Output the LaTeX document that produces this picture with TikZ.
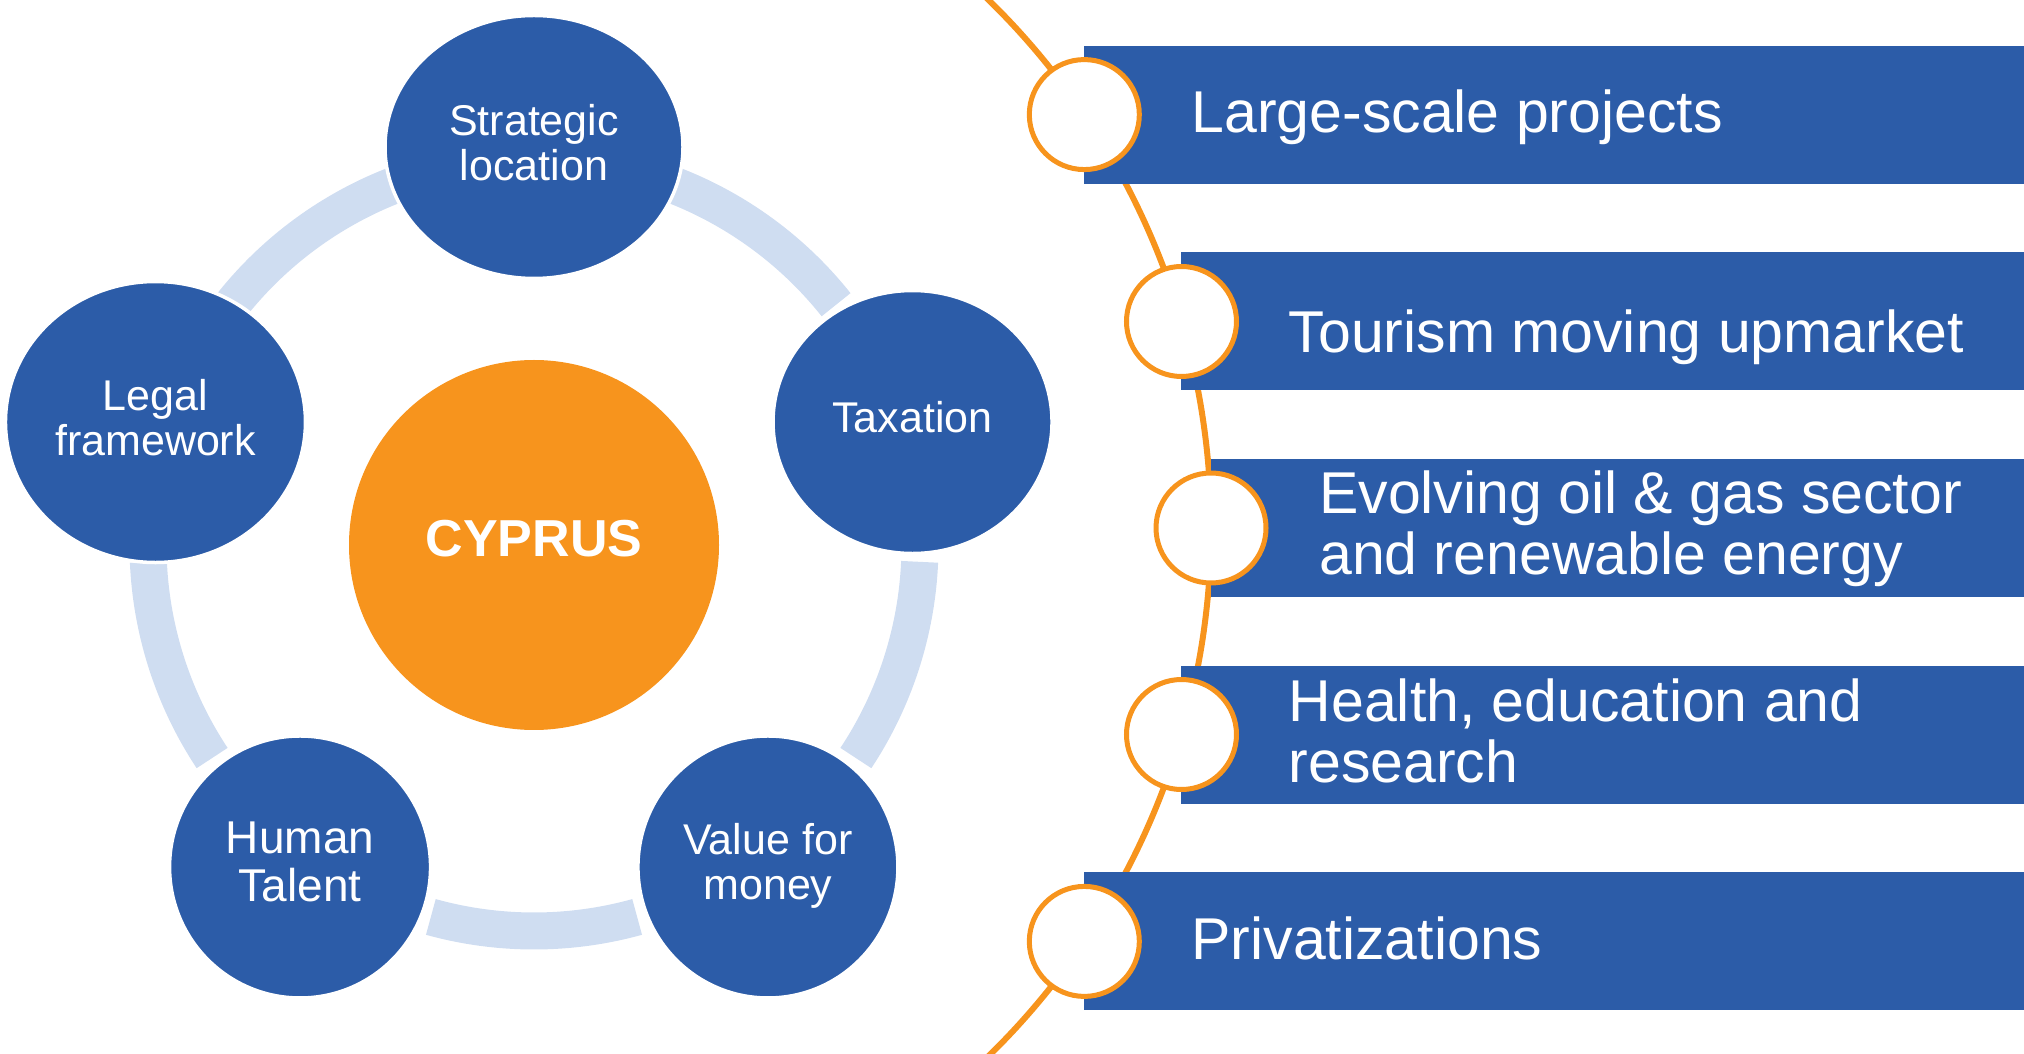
\documentclass[tikz,border=0pt]{standalone}
\usepackage{fontspec}
\setmainfont{Liberation Sans}
\usetikzlibrary{shapes.geometric, calc}
\definecolor{cyblue}{HTML}{2C5CA8}
\definecolor{cyring}{HTML}{CFDDF1}
\definecolor{cyorange}{HTML}{F7941D}
\tikzset{x=1pt, y=1pt, % one unit is one point
pillar/.style={ellipse, fill=cyblue, draw=white, line width=3.5pt, inner sep=0pt, text=white, align=center, text depth=10pt, font=\fontsize{43}{45}\selectfont}, % the blue ellipses round the hub
ringarc/.style={draw=cyring, line width=37pt, line cap=butt}, % pale ring pieces between the ellipses
ringdot/.style={circle, fill=white, draw=cyorange, line width=5pt, minimum size=110pt, inner sep=0pt}, % white dots on the orange arc
bar/.style={fill=cyblue},
bartext/.style={anchor=west, inner sep=0pt, text=white, align=left, text depth=0pt, font=\fontsize{59}{61}\selectfont},
}

\begin{document}
\begin{tikzpicture}
\useasboundingbox (0,0) rectangle (2024,1053);
\clip (0,0) rectangle (2024,1053);

% left: the five pillars round Cyprus
\coordinate (hub) at (534,508);
\foreach \a in {90,18,-54,-126,162}
  \draw[ringarc] ($(hub)+(\a-20.5:386pt)$) arc[start angle=\a-20.5, end angle=\a-51.5, radius=386pt];

\node[pillar, minimum width=298pt, minimum height=263pt] (strat) at ($(hub)+(90:398pt)$) {Strategic\\location};
\node[pillar, minimum width=279pt, minimum height=263pt] (tax) at ($(hub)+(18:398pt)$) {Taxation};
\node[pillar, minimum width=260pt, minimum height=262pt, text depth=12pt] (value) at ($(hub)+(-54:398pt)$) {Value for\\money};
\node[pillar, minimum width=261pt, minimum height=262pt, font=\fontsize{46}{48}\selectfont] (human) at ($(hub)+(-126:398pt)$) {Human\\Talent};
\node[pillar, minimum width=300pt, minimum height=281pt] (legal) at ($(hub)+(162:398pt)$) {Legal\\framework};

\node[circle, fill=cyorange, minimum size=370pt, inner sep=0pt, text=white, text depth=13pt, font=\bfseries\fontsize{52}{54}\selectfont] (cyprus) at (hub) {CYPRUS};

% right: the sectors along the orange arc
\coordinate (arcc) at (473,525);
\coordinate (edge) at (2024,0);
\draw[cyorange, line width=6pt] ($(arcc)+(47:738pt)$) arc[start angle=47, end angle=-47, radius=738pt];

\coordinate (p1) at ($(arcc)+(34.07:738pt)$);
\coordinate (p2) at ($(arcc)+(16.25:738pt)$);
\coordinate (p3) at ($(arcc)+(0:738pt)$);
\coordinate (p4) at ($(arcc)+(-16.25:738pt)$);
\coordinate (p5) at ($(arcc)+(-34.07:738pt)$);

\fill[bar] ($(p1)+(0,-69)$) rectangle ($(p1 -| edge)+(0,69)$);
\fill[bar] ($(p2)+(0,-69)$) rectangle ($(p2 -| edge)+(0,69)$);
\fill[bar] ($(p3)+(0,-69)$) rectangle ($(p3 -| edge)+(0,69)$);
\fill[bar] ($(p4)+(0,-69)$) rectangle ($(p4 -| edge)+(0,69)$);
\fill[bar] ($(p5)+(0,-69)$) rectangle ($(p5 -| edge)+(0,69)$);

\node[ringdot] (d1) at (p1) {};
\node[ringdot] (d2) at (p2) {};
\node[ringdot] (d3) at (p3) {};
\node[ringdot] (d4) at (p4) {};
\node[ringdot] (d5) at (p5) {};

\node[bartext] (s1) at ($(p1)+(107,3)$) {Large-scale projects};
\node[bartext] (s2) at ($(p2)+(107,-10)$) {Tourism moving upmarket};
\node[bartext] (s3) at ($(p3)+(108,5)$) {Evolving oil \& gas sector\\and renewable energy};
\node[bartext] (s4) at ($(p4)+(107,4)$) {Health, education and\\research};
\node[bartext] (s5) at ($(p5)+(107,3)$) {Privatizations};

\end{tikzpicture}
\end{document}
